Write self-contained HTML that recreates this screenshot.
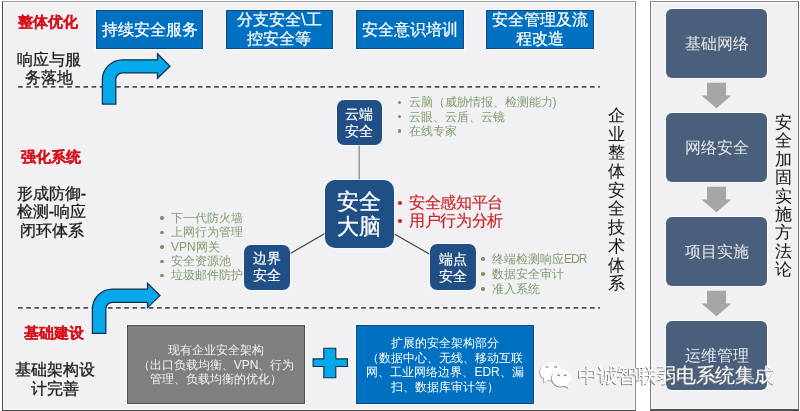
<!DOCTYPE html>
<html><head><meta charset="utf-8">
<style>
*{margin:0;padding:0;box-sizing:border-box}
html,body{width:800px;height:411px;overflow:hidden;background:#fff;font-family:"Liberation Sans",sans-serif}
#root{position:absolute;left:0;top:0;width:800px;height:411px;will-change:transform}
.a{position:absolute}
.panel{position:absolute;background:#f1f0f2;box-shadow:inset 0 0 0 1px #f8f8f9}
.tb{position:absolute;box-shadow:0 0 0 1px rgba(255,255,255,.85);top:9.8px;height:38.8px;background:#0070c0;border:1px solid #0a4a80;color:#fff;font-size:16px;line-height:19px;-webkit-text-stroke:0.25px #fff;display:flex;align-items:center;justify-content:center;text-align:center}
.lbl{position:absolute;font-size:16px;line-height:18.2px;text-align:center;color:#1a1a1a;-webkit-text-stroke:0.3px #1a1a1a}
.red{color:#d8101a;font-weight:bold;font-size:15px;-webkit-text-stroke:0.2px #d8101a}
.nb{position:absolute;box-shadow:0 0 0 1px rgba(255,255,255,.6);background:#1f4f84;border-radius:7px;color:#fff;font-size:14px;line-height:16.8px;-webkit-text-stroke:0.2px #fff;display:flex;align-items:center;justify-content:center;text-align:center}
.g{position:absolute;font-size:12px;line-height:14.2px;color:#809c72;white-space:nowrap}
.g div{position:relative;padding-left:11px}
.g div:before{content:"";position:absolute;left:0.3px;top:5.6px;width:3.4px;height:3.4px;border-radius:50%;background:#7a9266}
.rb{position:absolute;box-shadow:0 0 0 1px rgba(255,255,255,.7);left:666px;width:101px;height:69px;background:#4a5f7b;border-radius:6px;color:#e8e8e8;font-size:16px;padding-top:2.5px;display:flex;align-items:center;justify-content:center}
.vt{position:absolute;font-size:17px;line-height:18.68px;width:20px;text-align:center;color:#1a1a1a;-webkit-text-stroke:0.05px #1a1a1a}
</style></head><body><div id="root">
<div class="panel" style="left:2px;top:1px;width:634.3px;height:410px;border-style:solid;border-color:#9c9c9c #8a8a8a #4a4a4a #484848;border-width:1.6px 1.3px 1.3px 1.2px"></div>
<div class="panel" style="left:649.7px;top:1.2px;width:149.3px;height:409.8px;border-style:solid;border-color:#8f8f8f #6a6a6a #505050 #7a7a7a;border-width:1.4px 1.3px 2px 1.4px"></div>

<!-- dashed lines -->
<svg class="a" style="left:0;top:0" width="800" height="411">
<line x1="18.1" y1="86.8" x2="599.9" y2="86.8" stroke="#505050" stroke-width="1.8" stroke-dasharray="4.6 3.57"/>
<line x1="18.1" y1="307.8" x2="599.9" y2="307.8" stroke="#505050" stroke-width="1.8" stroke-dasharray="4.6 3.57"/>
</svg>

<!-- top boxes -->
<div class="tb" style="left:96px;width:107px">持续安全服务</div>
<div class="tb" style="left:226px;width:107px">分支安全\工<br>控安全等</div>
<div class="tb" style="left:356px;width:108px">安全意识培训</div>
<div class="tb" style="left:486px;width:108px">安全管理及流<br>程改造</div>

<!-- left labels -->
<div class="lbl red" style="left:9px;top:12.5px;width:77px">整体优化</div>
<div class="lbl" style="left:10.5px;top:51px;width:77px">响应与服<br>务落地</div>
<div class="lbl red" style="left:12px;top:148px;width:77px">强化系统</div>
<div class="lbl" style="left:13px;top:184.8px;width:77px;line-height:18.6px">形成防御-<br>检测-响应<br>闭环体系</div>
<div class="lbl red" style="left:15.5px;top:324px;width:77px">基础建设</div>
<div class="lbl" style="left:12px;top:361px;width:86px;line-height:18.5px">基础架构设<br>计完善</div>

<!-- arrows -->
<svg class="a" style="left:0;top:0" width="800" height="411">
<g id="arr">
<path d="M92.4,333.4 L92.4,309.2 A20,20 0 0 1 112.4,289.2 L147.5,289.2 L147.5,283.2 L160,295.6 L147.5,307.6 L147.5,302.3 L112.3,302.3 A6.5,6.5 0 0 0 105.8,308.8 L105.8,333.4 Z" fill="#05a8ea" stroke="#10304a" stroke-width="1.25"/>
</g>
<path transform="translate(10,-229.4)" d="M92.4,333.4 L92.4,309.2 A20,20 0 0 1 112.4,289.2 L147.5,289.2 L147.5,283.2 L160,295.6 L147.5,307.6 L147.5,302.3 L112.3,302.3 A6.5,6.5 0 0 0 105.8,308.8 L105.8,333.4 Z" fill="#05a8ea" stroke="#10304a" stroke-width="1.25"/>
<!-- connectors -->
<line x1="359.2" y1="145" x2="359.2" y2="180" stroke="#8a8a8a" stroke-width="1.3"/>
<line x1="359" y1="213.7" x2="267" y2="267" stroke="#444" stroke-width="1.2"/>
<line x1="359" y1="213.7" x2="452" y2="267" stroke="#444" stroke-width="1.2"/>
<!-- plus -->
<path d="M323.8,348.2 H335.8 V358.9 H347.4 V366.5 H335.8 V377.7 H323.8 V366.5 H313.1 V358.9 H323.8 Z" fill="#05a8ea" stroke="#10304a" stroke-width="1.1"/>
</svg>

<!-- green bullet lists -->
<div class="g" style="left:397.5px;top:95.3px">
<div>云脑（威胁情报、检测能力)</div><div>云眼、云盾、云镜</div><div>在线专家</div>
</div>
<div class="g" style="left:160px;top:210.8px;line-height:14.4px">
<div>下一代防火墙</div><div>上网行为管理</div><div>VPN网关</div><div>安全资源池</div><div>垃圾邮件防护</div>
</div>
<div class="g" style="left:481px;top:251.9px;line-height:15px">
<div>终端检测响应<span style="letter-spacing:-0.9px">EDR</span></div><div>数据安全审计</div><div>准入系统</div>
</div>

<!-- navy boxes -->
<div class="nb" style="left:336.5px;top:99.6px;width:45.7px;height:45.3px;padding-top:1.5px">云端<br>安全</div>
<div class="nb" style="left:324.5px;top:180px;width:69.5px;height:67.5px;font-size:22px;line-height:24.8px;border-radius:10px;padding-top:1.5px;-webkit-text-stroke:0.3px #fff">安全<br>大脑</div>
<div class="nb" style="left:244px;top:244.5px;width:46px;height:45px">边界<br>安全</div>
<div class="nb" style="left:429.6px;top:244.3px;width:46px;height:45.5px;padding-top:1px">端点<br>安全</div>

<!-- red list -->
<div class="a" style="left:398px;top:193.5px;font-size:16px;letter-spacing:-0.35px;line-height:18px;color:#cc2229;white-space:nowrap;-webkit-text-stroke:0.15px #cc2229">
<div style="position:relative;padding-left:11px">安全感知平台<span style="position:absolute;left:0;top:7.3px;width:4.4px;height:4.4px;border-radius:50%;background:#c81e26"></span></div>
<div style="position:relative;padding-left:11px">用户行为分析<span style="position:absolute;left:0;top:7.3px;width:4.4px;height:4.4px;border-radius:50%;background:#c81e26"></span></div>
</div>

<!-- vertical text -->
<div class="vt" style="left:606px;top:107px">企<br>业<br>整<br>体<br>安<br>全<br>技<br>术<br>体<br>系</div>

<!-- bottom boxes -->
<div class="a" style="box-shadow:0 0 0 1px rgba(255,255,255,.8);left:127px;top:325px;width:178px;height:78.6px;padding-top:1.5px;background:#7f7f81;border:1px solid #505052;color:#f2f2f2;font-size:12px;line-height:14.5px;text-align:center;display:flex;align-items:center;justify-content:center">现有企业安全架构<br>（出口负载均衡、VPN、行为<br>管理、负载均衡的优化）</div>
<div class="a" style="box-shadow:0 0 0 1px rgba(255,255,255,.8);left:356.3px;top:325px;width:177.5px;height:78.6px;padding-top:2px;background:#0070c0;border:1px solid #0a4a80;color:#fff;font-size:12px;line-height:14.5px;text-align:center;display:flex;align-items:center;justify-content:center">扩展的安全架构部分<br>（数据中心、无线、移动互联<br>网、工业网络边界、EDR、漏<br>扫、数据库审计等）</div>

<!-- right panel -->
<div class="rb" style="top:9px">基础网络</div>
<div class="rb" style="top:113px">网络安全</div>
<div class="rb" style="top:217px">项目实施</div>
<div class="rb" style="top:321px">运维管理</div>
<svg class="a" style="left:0;top:0" width="800" height="411">
<path d="M707,82.8 H726 V95.6 H731.3 L716.4,108.2 L701.4,95.6 H707 Z" fill="#a6a6a6"/>
<path transform="translate(0,104)" d="M707,82.8 H726 V95.6 H731.3 L716.4,108.2 L701.4,95.6 H707 Z" fill="#a6a6a6"/>
<path transform="translate(0,208)" d="M707,82.8 H726 V95.6 H731.3 L716.4,108.2 L701.4,95.6 H707 Z" fill="#a6a6a6"/>
</svg>
<div class="vt" style="left:773px;top:114px;line-height:18.4px">安<br>全<br>加<br>固<br>实<br>施<br>方<br>法<br>论</div>

<!-- watermark -->
<svg class="a" style="left:538px;top:360px" width="36" height="32" viewBox="0 0 36 32">
<defs>
<path id="wb1" d="M13,2.3 C6.5,2.3 2,6.8 2,11.4 C2,14.4 3.6,16.8 6.2,18.4 L5.6,22.6 L9.6,20.2 C10.9,20.5 12.2,20.6 13.5,20.6 C20,20.6 24,16.2 24,11.4 C24,6.8 19.5,2.3 13,2.3 Z"/>
<path id="wb2" d="M23.5,9.4 C17.8,9.4 13.8,13.2 13.8,18 C13.8,22.8 17.8,26.6 23.5,26.6 C24.8,26.6 25.9,26.4 27,26.1 L31,28.3 L30,24.6 C32,23 33.2,20.7 33.2,18 C33.2,13.2 29.2,9.4 23.5,9.4 Z"/>
</defs>
<use href="#wb1" fill="#9a9a9a" transform="translate(-0.8,0.8)"/>
<use href="#wb1" fill="#fdfdfd"/>
<use href="#wb2" fill="#8f8f8f" transform="translate(-0.8,0.8)"/>
<use href="#wb2" fill="#fdfdfd"/>
<g fill="none" stroke="#8a8a8a" stroke-width="1.1" stroke-linecap="round">
<path d="M8,7.3 Q9,5.8 10,7.3"/><path d="M16.7,7.3 Q17.7,5.8 18.7,7.3"/>
<path d="M19.6,15.6 Q20.6,14.1 21.6,15.6"/><path d="M26.2,15.6 Q27.2,14.1 28.2,15.6"/>
</g>
</svg>
<div class="a" style="left:578px;top:362.5px;font-size:20px;letter-spacing:-0.4px;line-height:24px;color:#fff;white-space:nowrap;text-shadow:-0.8px 0.8px 0.6px #808080">中诚智联弱电系统集成</div>
</div></body></html>
